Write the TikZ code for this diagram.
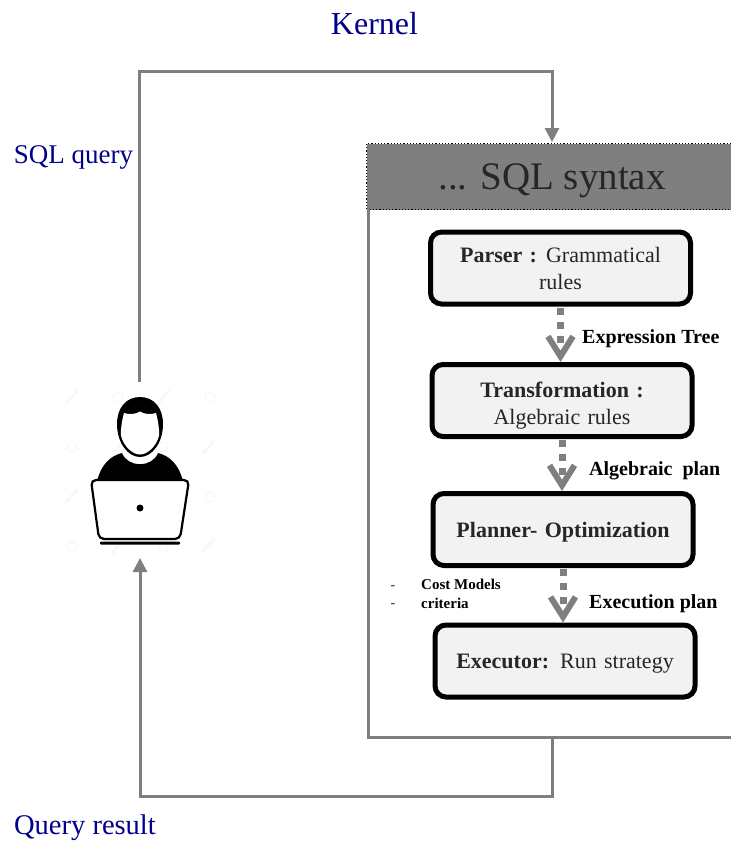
\documentclass[tikz,border=0pt]{standalone}
\usepackage{fontspec}
\setmainfont{Liberation Serif}
\usetikzlibrary{arrows.meta,positioning}
\definecolor{linegray}{HTML}{7F7F7F}
\definecolor{navytxt}{HTML}{00008B}
\definecolor{boxfill}{HTML}{F2F2F2}
\definecolor{softtxt}{HTML}{262626}
\definecolor{markgray}{HTML}{F8F8F8}
\newcommand{\lowr}[2]{\raisebox{-#1}[\height][\depth]{#2}}
\tikzset{
  x=1pt,y=-1pt,
  wire/.style={draw=linegray,line width=3pt},
  wirearrow/.style={wire,-{Triangle[length=14pt,width=14pt]}},
  stagebox/.style={draw=black,line width=5pt,fill=boxfill,rounded corners=11pt,align=center,
    minimum width=260pt,minimum height=72pt,inner sep=0pt,text width=240pt,
    font=\fontsize{22}{28}\selectfont,text=softtxt},
  flow/.style={draw=linegray,line width=7pt,dash pattern=on 7pt off 7pt,
    -{Straight Barb[length=20pt,width=25pt,line width=6pt]}},
  bluelabel/.style={text=navytxt,inner sep=0pt},
  flowlabel/.style={text=black,inner sep=0pt,anchor=west,font=\bfseries\fontsize{20}{24}\selectfont},
  minilabel/.style={inner sep=0pt,anchor=west,font=\bfseries\fontsize{15}{18}\selectfont},
  dashlabel/.style={inner sep=0pt,font=\fontsize{14}{16}\selectfont,text=softtxt},
}
\begin{document}
\begin{tikzpicture}
\useasboundingbox (0,0) rectangle (731,841);
\fill[white] (0,0) rectangle (731,841);

% header and frame
\node[draw=black,dotted,line width=1.2pt,fill=linegray,minimum width=370pt,minimum height=66pt,inner sep=0pt,anchor=north west] (head) at (366,143) {};
\node[text=softtxt,inner sep=0pt,font=\fontsize{39}{42}\selectfont] (headtxt) at (552,181) {... SQL syntax};
\coordinate (frameTL) at (368,209);
\coordinate (frameBL) at (368,737);
\coordinate (frameBR) at (731,737);
\draw[wire] (frameTL) -- (frameBL) -- (frameBR);

% stages
\node[stagebox] (parser) at (560.5,268) {\textbf{Parser :}\hspace{-2pt} Grammatical\\[-1pt]rules};
\node[stagebox] (trans) at (562,400.5) {\lowr{5pt}{\textbf{Transformation :}}\\[-1pt]\lowr{5pt}{Algebraic rules}};
\node[stagebox] (plan) at (563,529.5) {\lowr{3pt}{\textbf{Planner- Optimization}}};
\node[stagebox] (exec) at (565,661) {\lowr{3pt}{\textbf{Executor:} Run strategy}};

% flows
\draw[flow] (parser.south) ++(0,1) coordinate (p1) -- (p1 |- trans.north);
\draw[flow] (trans.south) ++(0,1) coordinate (t1) -- (t1 |- plan.north);
\draw[flow] (plan.south) ++(0,1) coordinate (q1) -- (q1 |- exec.north);

\node[flowlabel] (l1) at (582,339) {Expression Tree};
\node[flowlabel] (l2) at (589,471) {Algebraic\ \ plan};
\node[flowlabel] (l3) at (589,604) {Execution plan};

\node[minilabel] (c1) at (421,584.5) {Cost Models};
\node[minilabel] (c2) at (421,603.5) {criteria};
\node[dashlabel] (d1) at (393,588) {-};
\node[dashlabel] (d2) at (393,606) {-};

% labels
\node[bluelabel,font=\fontsize{32}{36}\selectfont] (kernel) at (374.5,24) {Kernel};
\node[bluelabel,font=\fontsize{27}{30}\selectfont] (sql) at (73.5,157) {SQL query};
\node[bluelabel,font=\fontsize{28.5}{32}\selectfont] (res) at (85,828) {Query result};

% faint background marks behind the user icon
\foreach \cx/\cy in {118/397,210/397,72/447,163/447,118/497,210/497,72/547,163/547}
  \draw[markgray,line width=1.2pt] (\cx,\cy) circle (5);
\foreach \sx/\sy in {71/397,163/397,117/448,208/447,71/496,163/496,117/547,208/545}
  \draw[markgray,line width=3pt,line cap=round] (\sx-5,\sy+6) -- (\sx+6,\sy-6);

% user icon
\fill[black] (97,481) .. controls (101,465) and (110,456) .. (122,453)
  .. controls (128,468) and (152,468) .. (158,453)
  .. controls (170,456) and (179,465) .. (183,481) -- cycle;
\fill[black] (140,397) .. controls (154,397) and (163,408) .. (163,424)
  .. controls (163,443) and (152,457) .. (140,457)
  .. controls (128,457) and (117,443) .. (117,424)
  .. controls (117,408) and (126,397) .. (140,397) -- cycle;
\fill[white] (124,413) .. controls (130,415) and (136,414) .. (140,411.5)
  .. controls (144,414) and (150,415) .. (156,413)
  .. controls (158,420) and (159.5,430) .. (159,436)
  .. controls (156,447) and (147,454.5) .. (140,454.5)
  .. controls (133,454.5) and (124,447) .. (121,436)
  .. controls (120.5,430) and (122,420) .. (124,413) -- cycle;
\draw[black,line width=2.2pt,fill=white,rounded corners=5pt] (91,480) -- (189,480) -- (180,539) -- (99,539) -- cycle;
\fill[black] (140,508) circle (3.5);
\fill[black,rounded corners=1pt] (100,541.5) rectangle (180,544.5);

% connectors
\coordinate (userTop) at (139,382);
\coordinate (userBot) at (140,558);
\coordinate (topR) at (552,71);
\coordinate (headTop) at (552,142);
\coordinate (botR) at (552,796);
\coordinate (botStart) at (552,737);
\draw[wirearrow] (userTop) -- (userTop |- topR) -- (topR) -- (headTop);
\draw[wirearrow] (botStart) -- (botR) -- (userBot |- botR) -- (userBot);
\end{tikzpicture}
\end{document}
